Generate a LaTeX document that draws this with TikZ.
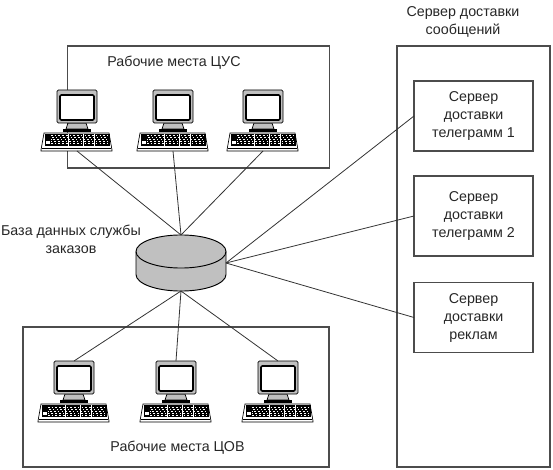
\documentclass[tikz,border=0pt]{standalone}
\usepackage{fontspec}
\setmainfont{Liberation Sans}
\usepackage{xcolor}
\usepackage{tikz}
\usetikzlibrary{positioning,calc}

\definecolor{hubgray}{RGB}{192,192,192}

\tikzset{
  pics/workstation/.style={code={
    % keyboard
    \draw[fill=white, line width=0.5pt] (-36,-1) -- (-33,-18) -- (32,-18) -- (35,-1) -- (35,0) -- (-36,0) -- cycle;
    \fill (-32,-17) rectangle (33,-5);
    \foreach \row/\off in {-15/0, -13/2, -11/1, -9/3, -7/0}
      \draw[white, line width=0.75pt, dash pattern=on 1.2pt off 1.6pt, dash phase=\off pt] (-26,\row) -- (31,\row);
    \fill[white] (-31,-10) rectangle (-27,-7);
    \foreach \gap in {-9,6,17}
      \fill[white] (\gap,-17) rectangle ++(1.2,12);
    \draw[line width=0.9pt] (-35,-2.5) -- (34,-2.5);
    % stand
    \draw[fill=hubgray, line width=0.5pt] (-9,-28) -- (9,-28) -- (11,-22) -- (-11,-22) -- cycle;
    \fill (-14,-22) rectangle (14,-19);
    % monitor
    \draw[fill=hubgray, line width=0.5pt, rounded corners=1pt] (-20,-61) rectangle (20,-28);
    \draw[fill=white, line width=1.2pt, rounded corners=1pt] (-17,-56) rectangle (17,-31);
    \coordinate (-kbd) at (0,0);
    \coordinate (-top) at (0,-61);
  }},
  pics/diskstack/.style={code={
    \draw[fill=hubgray, line width=0.7pt] (-45,-11.5) -- (-45,11.5)
      arc[start angle=180, end angle=360, x radius=33.75pt, y radius=12.4pt]
      -- (45,-11.5)
      arc[start angle=0, end angle=180, x radius=33.75pt, y radius=12.4pt] -- cycle;
    \draw[line width=0.7pt] (-45,-11.5) arc[start angle=180, end angle=360, x radius=33.75pt, y radius=12.4pt];
  }},
}

\begin{document}
\begin{tikzpicture}[
  x=0.75pt, y=-0.75pt,
  txt/.style={font=\fontsize{10.7}{13.5}\selectfont, text=black!85, align=center, inner sep=0pt},
  outerbox/.style={draw=black!70, line width=1pt, inner sep=0pt, outer sep=0pt},
  srvbox/.style={outerbox, txt, minimum width=89.25pt},
  hub/.style={inner sep=0pt, outer sep=0pt, minimum width=67.5pt, minimum height=42pt},
  link/.style={draw=black!80, line width=0.6pt}
]
\useasboundingbox (0,0) rectangle (553,470);

% group frames
\node[outerbox, minimum width=196.5pt, minimum height=91.5pt] (cusbox) at (198.5,107) {};
\node[outerbox, minimum width=229.5pt, minimum height=105pt] (covbox) at (176,397) {};
\node[outerbox, minimum width=114.75pt, minimum height=315.75pt] (msgbox) at (473.5,256.5) {};

\node[txt] (cuslabel) at (174,63) {Рабочие места ЦУС};
\node[txt] (covlabel) at (177.5,448) {Рабочие места ЦОВ};
\node[txt] (msglabel) at (463,21.5) {Сервер доставки\\сообщений};
\node[txt] (hublabel) at (71,239) {База данных службы\\заказов};

% servers
\node[srvbox, minimum height=52.5pt] (srv1) at (473.5,116) {Сервер\\доставки\\телеграмм 1};
\node[srvbox, minimum height=60pt] (srv2) at (473.5,216) {Сервер\\доставки\\телеграмм 2};
\node[srvbox, minimum height=52.5pt] (srv3) at (473.5,317.5) {Сервер\\доставки\\реклам};

% workstations
\pic (cus1) at (77,151) {workstation};
\pic (cus2) at (173,151) {workstation};
\pic (cus3) at (263,151) {workstation};
\pic (cov1) at (74,422) {workstation};
\pic (cov2) at (176,422) {workstation};
\pic (cov3) at (278,422) {workstation};

% database
\node[hub] (db) at (181,263) {};
\pic at (db.center) {diskstack};

% links
\draw[link] (cus1-kbd) -- (db.north);
\draw[link] (cus2-kbd) -- (db.north);
\draw[link] (cus3-kbd) -- (db.north);
\draw[link] (cov1-top) -- (db.south);
\draw[link] (cov2-top) -- (db.south);
\draw[link] (cov3-top) -- (db.south);
\draw[link] (db.east) -- (srv1.west);
\draw[link] (db.east) -- (srv2.west);
\draw[link] (db.east) -- (srv3.west);
\end{tikzpicture}
\end{document}
